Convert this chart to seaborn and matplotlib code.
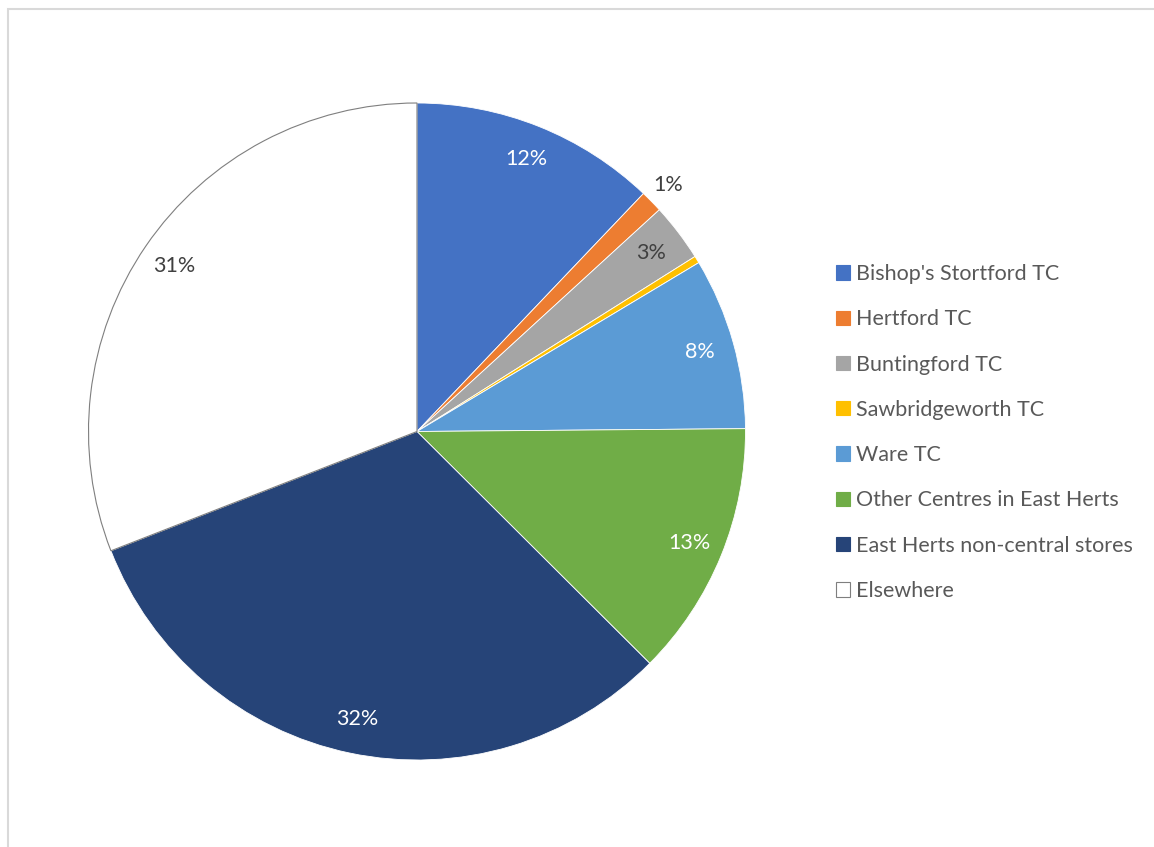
import matplotlib
matplotlib.use("Agg")
import matplotlib.pyplot as plt
from matplotlib.patches import Patch, Rectangle
import numpy as np
import seaborn as sns

# Share of spending by shopping destination (%)
categories = [
    "Bishop's Stortford TC",
    "Hertford TC",
    "Buntingford TC",
    "Sawbridgeworth TC",
    "Ware TC",
    "Other Centres in East Herts",
    "East Herts non-central stores",
    "Elsewhere",
]
shares = [12.1, 1.1, 2.85, 0.35, 8.45, 12.6, 31.6, 30.9]
colors = ["#4472C4", "#ED7D31", "#A5A5A5", "#FFC000",
          "#5B9BD5", "#70AD47", "#264478", "#FFFFFF"]
label_colors = ["white", "#404040", "#404040", None,
                "white", "white", "white", "#404040"]

sns.set_theme(style="white")
plt.rcParams["font.family"] = ["Lato", "DejaVu Sans"]

W, H = 1154, 847
fig = plt.figure(figsize=(W / 100, H / 100), dpi=100)
fig.patch.set_facecolor("white")

# light chart-area frame
fig.add_artist(Rectangle((8 / W, -0.01), 1.05, (H - 9) / H + 0.01,
                         transform=fig.transFigure, fill=False,
                         edgecolor="#d9d9d9", linewidth=1.5))

cx, cy, r = 417, 431.5, 328.5
ax = fig.add_axes([(cx - r) / W, (H - cy - r) / H, 2 * r / W, 2 * r / H])
wedges, _ = ax.pie(shares, colors=colors, startangle=90, counterclock=False,
                   radius=1.0,
                   wedgeprops=dict(edgecolor="white", linewidth=0.6))
wedges[-1].set_edgecolor("#7f7f7f")
wedges[-1].set_linewidth(0.8)
ax.set_xlim(-1, 1)
ax.set_ylim(-1, 1)
ax.set_aspect("equal")
ax.axis("off")

# percentage labels
for w, v, lc in zip(wedges, shares, label_colors):
    if lc is None:
        continue
    mid = np.deg2rad((w.theta1 + w.theta2) / 2)
    dist = 1.07 if v < 2 else 0.895
    ax.text(dist * np.cos(mid), dist * np.sin(mid), f"{round(v)}%",
            ha="center", va="center", fontsize=15.5, color=lc)

handles = [Patch(facecolor=c, edgecolor=("#7f7f7f" if c == "#FFFFFF" else c),
                 linewidth=0.8) for c in colors]
fig.legend(handles, categories, loc="upper left",
           bbox_to_anchor=(836 / W, 1 - 264 / H), frameon=False,
           fontsize=15.5, labelcolor="#595959",
           handlelength=0.65, handleheight=0.65, handletextpad=0.28,
           labelspacing=1.174, borderpad=0, borderaxespad=0)

fig.savefig("out.png", dpi=100, facecolor="white")
